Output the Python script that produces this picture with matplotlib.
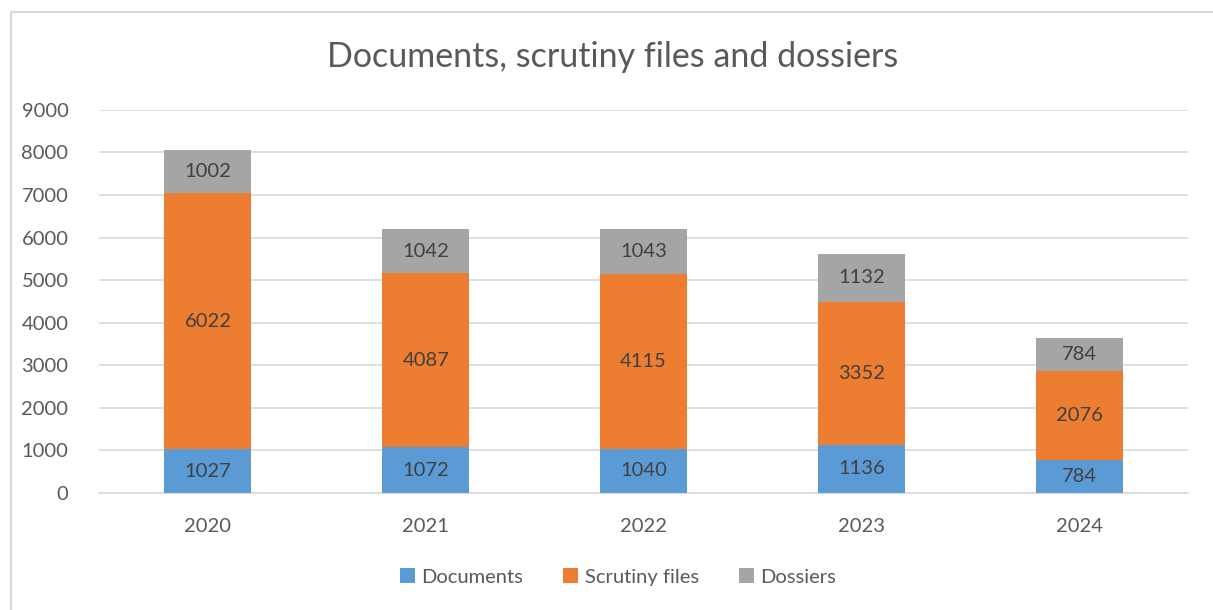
import matplotlib.pyplot as plt
import numpy as np
from matplotlib.patches import Rectangle

years = ['2020', '2021', '2022', '2023', '2024']
documents = [1027, 1072, 1040, 1136, 784]
scrutiny = [6022, 4087, 4115, 3352, 2076]
dossiers = [1002, 1042, 1043, 1132, 784]

plt.rcParams['font.family'] = ['Lato', 'DejaVu Sans']
txt = '#595959'

fig = plt.figure(figsize=(12.13, 6.10), dpi=100)
ax = fig.add_axes([0.0816, 0.1918, 0.898, 0.628])

# chart border (cut off at right and bottom like the screenshot)
fig.patches.append(Rectangle((11 / 1213, -0.1), 1.2, 1 - 12 / 610 + 0.1,
                             transform=fig.transFigure, fill=False,
                             edgecolor='#D9D9D9', linewidth=1.5))

x = np.arange(len(years))
w = 0.4
docs = np.array(documents)
scr = np.array(scrutiny)
dos = np.array(dossiers)

series = [
    ('Documents', docs, np.zeros(len(x)), '#5B9BD5'),
    ('Scrutiny files', scr, docs, '#ED7D31'),
    ('Dossiers', dos, docs + scr, '#A5A5A5'),
]
for name, vals, bottom, col in series:
    bars = ax.bar(x, vals, w, bottom=bottom, color=col, label=name, zorder=3)
    ax.bar_label(bars, labels=[str(v) for v in vals], label_type='center',
                 fontsize=14.5, color='#404040')

ax.set_ylim(0, 9000)
ax.set_xlim(-0.5, len(x) - 0.5)
ax.set_yticks(range(0, 9001, 1000))
ax.set_xticks(x)
ax.set_xticklabels(years)
ax.grid(axis='y', color='#D9D9D9', linewidth=1.2, zorder=0)
for s in ['left', 'right', 'top']:
    ax.spines[s].set_visible(False)
ax.spines['bottom'].set_color('#D9D9D9')
ax.spines['bottom'].set_linewidth(1.2)
ax.tick_params(axis='both', length=0, labelsize=14.5, labelcolor=txt)
ax.tick_params(axis='y', pad=22)
ax.tick_params(axis='x', pad=18)

fig.text(0.505, 0.907, 'Documents, scrutiny files and dossiers',
         ha='center', va='center', fontsize=24.5, color=txt)

fig.legend(loc='center', bbox_to_anchor=(0.5095, 1 - 577 / 610), ncol=3,
           frameon=False, fontsize=14.5, labelcolor=txt, handlelength=0.75,
           handleheight=0.75, handletextpad=0.3, columnspacing=2.0)

fig.savefig('out.png', dpi=100)
